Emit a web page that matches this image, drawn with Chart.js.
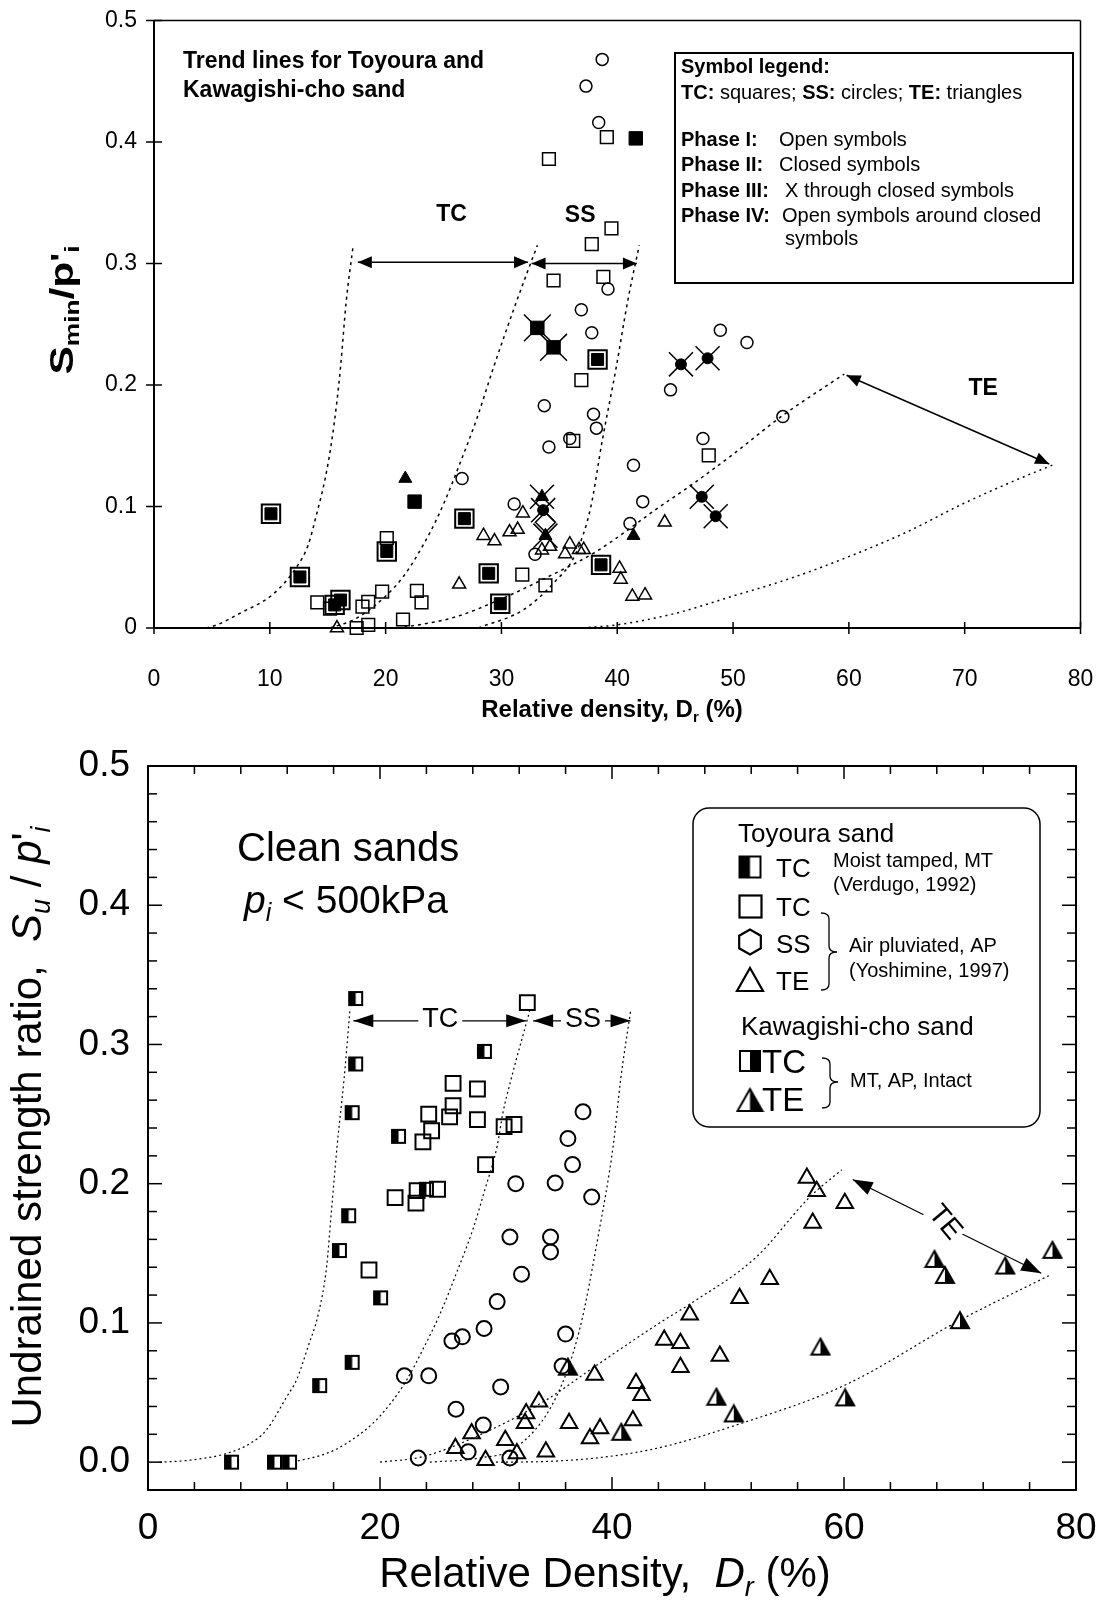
<!DOCTYPE html>
<html><head><meta charset="utf-8">
<script src="https://cdn.jsdelivr.net/npm/chart.js@4.4.1/dist/chart.umd.min.js"></script>
<style>
html,body{margin:0;padding:0;background:#fff;}
#wrap{position:relative;width:1101px;height:1608px;background:#fff;}
canvas{display:block;position:absolute;left:0;}
#c1{top:0;} #c2{top:730px;}
</style></head><body>
<div id="wrap"><canvas id="c1" width="1101" height="730"></canvas><canvas id="c2" width="1101" height="878"></canvas></div>
<script>
// ================= TOP CHART DATA =================
const topXTicks = [0,10,20,30,40,50,60,70,80];
const topXTickLabels = ['0','10','20','30','40','50','60','70','80'];
const topYTicks = [0,0.1,0.2,0.3,0.4,0.5];
const topYTickLabels = ['0','0.1','0.2','0.3','0.4','0.5'];

// TC squares
const tcPhase1 = [[39.1,0.404],[34.1,0.386],[39.5,0.329],[37.8,0.316],[34.5,0.286],[38.8,0.289],[36.9,0.204],[36.2,0.154],[47.9,0.142],[31.8,0.044],[33.8,0.035],[20.1,0.074],[14.1,0.021],[15.2,0.016],[18.0,0.0175],[18.5,0.0216],[19.7,0.030],[22.7,0.0306],[23.1,0.021],[21.5,0.007],[17.5,0.0],[18.5,0.0025]];
const tcPhase2 = [[41.6,0.403],[22.5,0.104]];
const tcPhase3 = [[33.1,0.247],[34.5,0.231]];
const tcPhase4 = [[38.3,0.221],[10.1,0.094],[26.8,0.090],[12.6,0.042],[20.1,0.063],[15.6,0.019],[16.1,0.023],[28.9,0.045],[29.9,0.020],[38.6,0.052]];
// SS circles
const ssPhase1 = [[38.7,0.468],[37.3,0.446],[38.4,0.416],[39.2,0.279],[36.9,0.262],[37.8,0.243],[33.7,0.183],[37.95,0.176],[38.2,0.1645],[35.9,0.156],[34.1,0.149],[41.4,0.134],[42.2,0.104],[26.6,0.123],[31.1,0.102],[32.9,0.0607],[48.9,0.245],[51.2,0.235],[44.6,0.196],[54.3,0.174],[47.4,0.156],[41.1,0.086]];
const ssPhase3 = [[45.5,0.217],[47.8,0.222],[47.3,0.108],[48.5,0.092],[33.6,0.097]];
const ssPhase4 = [[33.8,0.087]];
// TE triangles
const tePhase1 = [[31.85,0.0945],[28.45,0.076],[29.4,0.0716],[30.7,0.079],[31.4,0.081],[33.5,0.064],[34.2,0.067],[35.5,0.061],[35.9,0.069],[36.7,0.0645],[37.1,0.0645],[40.2,0.049],[40.3,0.040],[41.3,0.026],[42.4,0.027],[26.35,0.036],[44.1,0.087],[15.8,0.0]];
const tePhase2 = [[21.7,0.123],[41.4,0.076]];
const tePhase3 = [[33.5,0.108],[33.8,0.076]];

// trend lines
const topTrendTcLeft = [[4.5,0],[5.4,0.0025],[7.4,0.012],[10.3,0.028],[12.3,0.05],[13.3,0.068],[14.05,0.094],[14.8,0.124],[15.35,0.154],[15.8,0.187],[16.1,0.214],[16.6,0.269],[17.2,0.315]];
const topTrendTcRight = [[15.2,0],[17.2,0.0066],[18.95,0.0175],[21.5,0.042],[23.8,0.078],[25.0,0.102],[26.4,0.135],[27.9,0.173],[29.3,0.214],[31.2,0.266],[33.1,0.315]];
const topTrendSsRight = [[28,0],[31.9,0.015],[34.5,0.037],[36.4,0.061],[37.7,0.099],[38.7,0.154],[39.9,0.214],[40.9,0.269],[41.9,0.315]];
const topTrendTeUpper = [[21,0],[21.8,0.001],[26,0.009],[30,0.024],[34,0.042],[38.2,0.063],[43.7,0.1],[46.3,0.117],[50,0.143],[54.3,0.175],[59.6,0.209]];
const topTrendTeLower = [[37,0],[39.9,0.0025],[45,0.012],[49.9,0.026],[55,0.041],[59.8,0.058],[65,0.079],[69.8,0.102],[74,0.12],[77.8,0.135]];
const topArrowTC = [[17.6,0.301],[32.3,0.301]];
const topArrowSS = [[32.6,0.300],[41.7,0.300]];
const topArrowTE = [[59.8,0.208],[77.3,0.135]];
const topLabelTC = [25.7,0.34];
const topLabelSS = [36.8,0.339];
const topLabelTE = [71.6,0.197];

// ================= BOTTOM CHART DATA =================
const botXMajorTicks = [0,20,40,60,80];
const botXTickLabels = ['0','20','40','60','80'];
const botXMinorTicks = [0,4,8,12,16,20,24,28,32,36,40,44,48,52,56,60,64,68,72,76,80];
const botYMajorTicks = [0,0.1,0.2,0.3,0.4,0.5];
const botYTickLabels = ['0.0','0.1','0.2','0.3','0.4','0.5'];
const botYMinorTicks = [-0.02,0,0.02,0.04,0.06,0.08,0.1,0.12,0.14,0.16,0.18,0.2,0.22,0.24,0.26,0.28,0.3,0.32,0.34,0.36,0.38,0.4,0.42,0.44,0.46,0.48,0.5];

// Toyoura TC, moist tamped (half-filled squares)
const botTcMT = [[17.9,0.333],[17.9,0.286],[17.6,0.251],[17.3,0.177],[16.5,0.152],[17.6,0.0717],[14.8,0.055],[29.0,0.295],[21.6,0.234],[20.05,0.118],[24.0,0.196],[7.2,0.0],[10.9,0.0],[12.2,0.0]];
// Toyoura TC, air pluviated (open squares)
const botTcAP = [[32.7,0.330],[26.3,0.272],[28.4,0.268],[26.3,0.256],[24.2,0.250],[26.0,0.248],[28.4,0.246],[30.7,0.241],[31.55,0.2425],[24.45,0.238],[23.7,0.230],[29.1,0.2137],[21.3,0.190],[23.2,0.195],[24.96,0.196],[23.1,0.186],[19.05,0.138]];
// Toyoura SS (circles)
const botSS = [[37.5,0.2516],[36.2,0.2324],[36.6,0.2137],[31.7,0.200],[35.1,0.2005],[38.25,0.1904],[31.2,0.1617],[34.7,0.1617],[34.7,0.151],[32.2,0.135],[30.1,0.1153],[28.97,0.096],[26.2,0.087],[27.1,0.090],[36.0,0.092],[35.7,0.069],[22.1,0.062],[24.2,0.062],[30.4,0.054],[26.55,0.038],[28.9,0.0266],[27.6,0.0074],[23.3,0.003],[31.2,0.003]];
// Toyoura TE (open triangles)
const botTE = [[56.8,0.204],[57.65,0.1945],[60.07,0.186],[57.3,0.1717],[53.6,0.1314],[51.0,0.1178],[46.7,0.1058],[44.5,0.0878],[45.9,0.0854],[49.3,0.0763],[45.9,0.0681],[38.5,0.0626],[42.07,0.0566],[42.55,0.048],[33.7,0.0434],[32.6,0.035],[32.5,0.028],[36.3,0.028],[38.97,0.0242],[38.1,0.017],[41.8,0.030],[27.9,0.0206],[26.5,0.0099],[30.8,0.0158],[31.8,0.0063],[29.1,0.0014],[34.3,0.0074]];
// Kawagishi-cho TE (half-filled triangles)
const botKTE = [[36.2,0.0686],[40.8,0.0218],[67.8,0.146],[68.7,0.1345],[73.9,0.1412],[77.97,0.1525],[70.0,0.102],[57.97,0.083],[49.0,0.047],[50.5,0.035],[60.1,0.0465]];

const botTrendTcLeft = [[1,0],[3.6,0.0014],[6.8,0.0063],[8.8,0.0134],[10.2,0.023],[11.96,0.047],[12.8,0.059],[13.8,0.083],[14.7,0.107],[15.4,0.1405],[15.8,0.179],[16.3,0.227],[16.9,0.275],[17.4,0.324]];
const botTrendTcRight = [[12.5,0],[15.4,0.0063],[17.1,0.0134],[19.4,0.028],[20.9,0.042],[22.3,0.059],[23.7,0.081],[25.2,0.107],[26.6,0.136],[28.0,0.167],[29.05,0.196],[30.1,0.227],[30.6,0.251],[31.3,0.275],[32.9,0.324]];
const botTrendSsRight = [[24.3,0],[28.6,0.003],[31.8,0.011],[35.2,0.047],[37.2,0.095],[38.8,0.162],[40.1,0.227],[40.75,0.275],[41.6,0.324]];
const botTrendTeUpper = [[20,0],[23.7,0.004],[29.5,0.023],[34.4,0.045],[38.4,0.068],[44.1,0.1],[46.8,0.114],[52.4,0.147],[57.0,0.19],[59.8,0.21]];
const botTrendTeLower = [[30,0],[34.4,0.0005],[43.1,0.0086],[51.2,0.028],[60.1,0.0554],[70.0,0.102],[77.8,0.1345]];
const botArrowTC = [[17.7,0.317],[32.6,0.317]];
const botArrowSS = [[33.2,0.317],[41.6,0.317]];
const botArrowTE = [[60.75,0.203],[77.0,0.1357]];
const botLabelTC = [25.2,0.318];
const botLabelSS = [37.5,0.318];
const botLabelTE = [68.7,0.172];

// ================= HELPERS =================
const F = "'Liberation Sans', Arial, Helvetica, sans-serif";
const NONE = 'rgba(0,0,0,0)';
const P = a => a.map(p => ({x:p[0], y:p[1]}));
function marks(arr, style, r, fill, bw) {
  return {data:P(arr), pointStyle:style, pointRadius:r, pointHoverRadius:r, pointBackgroundColor:fill,
    pointBorderColor:'#000', pointBorderWidth:bw, showLine:false, order:1, clip:false};
}
function trend(arr, dash, bw) {
  return {data:P(arr), showLine:true, borderColor:'#000', borderWidth:bw, borderDash:dash, pointRadius:0,
    pointHoverRadius:0, fill:false, cubicInterpolationMode:'monotone', order:10, clip:false};
}
function makeHalfSquare(side, filled) {
  const s = Math.round(side) + 2, c = document.createElement('canvas'); c.width = s; c.height = s;
  const g = c.getContext('2d');
  g.fillStyle = '#fff'; g.fillRect(1,1,s-2,s-2);
  g.fillStyle = '#000';
  if (filled === 'left') g.fillRect(1,1,(s-2)/2,s-2); else g.fillRect(1+(s-2)/2,1,(s-2)/2,s-2);
  g.lineWidth = 2; g.strokeStyle = '#000'; g.strokeRect(2,2,s-4,s-4);
  return c;
}
function triPath(g, cx, top, w, h) {
  g.beginPath(); g.moveTo(cx, top); g.lineTo(cx + w/2, top + h); g.lineTo(cx - w/2, top + h); g.closePath();
}
function makeHalfTriangle(w, filled) {
  const h = Math.round(w*0.88), c = document.createElement('canvas'); c.width = w + 4; c.height = h + 4;
  const g = c.getContext('2d'); const cx = c.width/2;
  triPath(g, cx, 2, w, h); g.fillStyle = '#fff'; g.fill();
  g.save(); triPath(g, cx, 2, w, h); g.clip();
  g.fillStyle = '#000';
  if (filled === 'left') g.fillRect(0,0,cx,c.height); else g.fillRect(cx,0,cx,c.height);
  g.restore();
  triPath(g, cx, 2, w, h); g.lineWidth = 2; g.lineJoin='miter'; g.strokeStyle = '#000'; g.stroke();
  return c;
}
function rich(ctx, x, y, parts, opts) {
  const o = Object.assign({align:'left', rot:0, sx:1}, opts || {});
  ctx.save(); ctx.translate(x, y); if (o.rot) ctx.rotate(o.rot); if (o.sx !== 1) ctx.scale(o.sx, 1);
  ctx.textBaseline = 'alphabetic'; ctx.textAlign = 'left'; ctx.fillStyle = '#000';
  let w = 0; for (const p of parts) { ctx.font = p.f; p._w = ctx.measureText(p.t).width; w += p._w; }
  let cx = o.align === 'center' ? -w/2 : (o.align === 'right' ? -w : 0);
  for (const p of parts) { ctx.font = p.f; ctx.fillText(p.t, cx, p.dy || 0); cx += p._w; }
  ctx.restore();
}
function seg(ctx, x1, y1, x2, y2) { ctx.beginPath(); ctx.moveTo(x1,y1); ctx.lineTo(x2,y2); ctx.stroke(); }
function arrow(ctx, x1, y1, x2, y2, len, wid) {
  const a = Math.atan2(y2-y1, x2-x1);
  seg(ctx, x1, y1, x2, y2);
  const head = (x, y, an) => {
    ctx.beginPath(); ctx.moveTo(x, y);
    ctx.lineTo(x - len*Math.cos(an) + wid*Math.sin(an), y - len*Math.sin(an) - wid*Math.cos(an));
    ctx.lineTo(x - len*Math.cos(an) - wid*Math.sin(an), y - len*Math.sin(an) + wid*Math.cos(an));
    ctx.closePath(); ctx.fill();
  };
  head(x2, y2, a); head(x1, y1, a + Math.PI);
}
function brace(ctx, x, y1, y2, tipY, w) {
  ctx.beginPath();
  ctx.moveTo(x, y1);
  ctx.quadraticCurveTo(x + w*0.5, y1, x + w*0.5, y1 + 6);
  ctx.lineTo(x + w*0.5, tipY - 6);
  ctx.quadraticCurveTo(x + w*0.5, tipY, x + w, tipY);
  ctx.quadraticCurveTo(x + w*0.5, tipY, x + w*0.5, tipY + 6);
  ctx.lineTo(x + w*0.5, y2 - 6);
  ctx.quadraticCurveTo(x + w*0.5, y2, x, y2);
  ctx.stroke();
}

// ================= TOP CHART =================
const topDecor = {
  id: 'topDecor',
  afterDraw(chart) {
    const {ctx, chartArea: a, scales: {x, y}} = chart;
    ctx.save(); ctx.strokeStyle = '#000'; ctx.fillStyle = '#000';
    ctx.lineWidth = 1.5;
    seg(ctx, a.left, a.top, a.right, a.top); seg(ctx, a.right, a.top, a.right, a.bottom);
    ctx.lineWidth = 2;
    seg(ctx, a.left, a.top, a.left, a.bottom); seg(ctx, a.left, a.bottom, a.right, a.bottom);
    ctx.lineWidth = 1.5;
    topXTicks.forEach(v => { const px = x.getPixelForValue(v); seg(ctx, px, a.bottom - 6, px, a.bottom + 6); });
    topYTicks.forEach(v => { const py = y.getPixelForValue(v); seg(ctx, a.left - 8, py, a.left + 8, py); });
    // arrows
    ctx.lineWidth = 1.5;
    [topArrowTC, topArrowSS, topArrowTE].forEach(ar => {
      arrow(ctx, x.getPixelForValue(ar[0][0]), y.getPixelForValue(ar[0][1]), x.getPixelForValue(ar[1][0]), y.getPixelForValue(ar[1][1]), 14, 6);
    });
    // labels
    ctx.font = 'bold 23px ' + F; ctx.textAlign = 'center'; ctx.textBaseline = 'middle';
    [[topLabelTC,'TC'],[topLabelSS,'SS'],[topLabelTE,'TE']].forEach(([p,t]) => ctx.fillText(t, x.getPixelForValue(p[0]), y.getPixelForValue(p[1])));
    ctx.textAlign = 'left'; ctx.textBaseline = 'alphabetic';
    ctx.fillText('Trend lines for Toyoura and', 183, 68);
    ctx.fillText('Kawagishi-cho sand', 183, 97);
    // legend box
    ctx.lineWidth = 2; ctx.strokeRect(675, 53, 398, 230);
    const B = 'bold 20px ' + F, R = '20px ' + F;
    rich(ctx, 681, 73, [{t:'Symbol legend:', f:B}]);
    rich(ctx, 681, 99, [{t:'TC:', f:B},{t:' squares; ', f:R},{t:'SS:', f:B},{t:' circles; ', f:R},{t:'TE:', f:B},{t:' triangles', f:R}]);
    rich(ctx, 681, 146, [{t:'Phase I:', f:B}]); rich(ctx, 779, 146, [{t:'Open symbols', f:R}]);
    rich(ctx, 681, 171, [{t:'Phase II:', f:B}]); rich(ctx, 779, 171, [{t:'Closed symbols', f:R}]);
    rich(ctx, 681, 197, [{t:'Phase III:', f:B}]); rich(ctx, 785, 197, [{t:'X through closed symbols', f:R}]);
    rich(ctx, 681, 222, [{t:'Phase IV:', f:B}]); rich(ctx, 782, 222, [{t:'Open symbols around closed', f:R}]);
    rich(ctx, 785, 245, [{t:'symbols', f:R}]);
    // axis titles
    rich(ctx, 612, 717, [{t:'Relative density, D', f:'bold 24px ' + F},{t:'r', f:'bold 15px ' + F, dy:5},{t:' (%)', f:'bold 24px ' + F}], {align:'center'});
    rich(ctx, 73, 310, [{t:'S', f:'bold 34px ' + F},{t:'min', f:'bold 21px ' + F, dy:6},{t:'/p', f:'bold 34px ' + F},{t:"'", f:'bold 30px ' + F, dy:-2},{t:'i', f:'bold 21px ' + F, dy:6}], {align:'center', rot:-Math.PI/2, sx:1.25});
    ctx.restore();
  }
};

new Chart(document.getElementById('c1'), {
  type: 'scatter',
  data: { datasets: [
    trend(topTrendTcLeft, [3,4], 1.5), trend(topTrendTcRight, [3,4], 1.5), trend(topTrendSsRight, [3,4], 1.5),
    trend(topTrendTeUpper, [3,4], 1.5), trend(topTrendTeLower, [2,4], 1.5),
    marks(tcPhase1, 'rect', 9, NONE, 1.5),
    marks(tcPhase2, 'rect', 9.5, '#000', 1),
    marks(tcPhase3, 'rect', 9.5, '#000', 1), marks(tcPhase3, 'crossRot', 19, NONE, 1.5),
    marks(tcPhase4, 'rect', 13, NONE, 2), marks(tcPhase4, 'rect', 8.5, '#000', 1),
    marks(ssPhase1, 'circle', 6, NONE, 1.5),
    marks(ssPhase3, 'circle', 5.5, '#000', 1), marks(ssPhase3, 'crossRot', 17, NONE, 1.5),
    marks(ssPhase4, 'rectRot', 10, NONE, 1.5),
    marks(tePhase1, 'triangle', 7.5, NONE, 1.5),
    marks(tePhase2, 'triangle', 7.5, '#000', 1),
    marks(tePhase3, 'triangle', 7.5, '#000', 1), marks(tePhase3, 'crossRot', 17, NONE, 1.5)
  ]},
  options: {
    responsive: false, animation: false, devicePixelRatio: 1,
    layout: { padding: { left: 0, right: 19, top: 18, bottom: 0 } },
    plugins: { legend: {display: false}, tooltip: {enabled: false} },
    scales: {
      x: { type: 'linear', min: 0, max: 80, position: 'bottom',
        afterBuildTicks: s => { s.ticks = topXTicks.map(v => ({value: v})); },
        afterFit: s => { s.height = 102; s.paddingLeft = 0; s.paddingRight = 0; },
        grid: {display: false, drawTicks: false}, border: {display: false},
        ticks: { padding: 38, color: '#000', font: {family: F, size: 23}, maxRotation: 0, autoSkip: false,
          callback: v => { const i = topXTicks.indexOf(v); return i >= 0 ? topXTickLabels[i] : ''; } } },
      y: { type: 'linear', min: 0, max: 0.5, position: 'left',
        afterBuildTicks: s => { s.ticks = topYTicks.map(v => ({value: v})); },
        afterFit: s => { s.width = 154; s.paddingTop = 0; s.paddingBottom = 0; },
        grid: {display: false, drawTicks: false}, border: {display: false},
        ticks: { padding: 17, color: '#000', font: {family: F, size: 23}, autoSkip: false,
          callback: v => { const i = topYTicks.findIndex(t => Math.abs(t - v) < 1e-9); return i >= 0 ? topYTickLabels[i] : ''; } } }
    }
  },
  plugins: [topDecor]
});

// ================= BOTTOM CHART =================
const halfSqMT = makeHalfSquare(15, 'left');
const halfSqK = makeHalfSquare(22, 'right');
const halfTriK = makeHalfTriangle(18, 'right');

const botDecor = {
  id: 'botDecor',
  afterDraw(chart) {
    const {ctx, chartArea: a, scales: {x, y}} = chart;
    ctx.save(); ctx.strokeStyle = '#000'; ctx.fillStyle = '#000';
    ctx.lineWidth = 2; ctx.strokeRect(a.left, a.top, a.right - a.left, a.bottom - a.top);
    ctx.lineWidth = 1.5;
    botXMinorTicks.forEach(v => {
      const px = x.getPixelForValue(v), L = botXMajorTicks.includes(v) ? 13 : 8;
      seg(ctx, px, a.bottom, px, a.bottom - L); seg(ctx, px, a.top, px, a.top + L);
    });
    botYMinorTicks.forEach(v => {
      const py = y.getPixelForValue(v), L = botYMajorTicks.some(m => Math.abs(m - v) < 1e-9) ? 14 : 9;
      seg(ctx, a.left, py, a.left + L, py); seg(ctx, a.right, py, a.right - L, py);
    });
    // arrows
    ctx.lineWidth = 1.3;
    [botArrowTC, botArrowSS].forEach(ar => {
      arrow(ctx, x.getPixelForValue(ar[0][0]), y.getPixelForValue(ar[0][1]), x.getPixelForValue(ar[1][0]), y.getPixelForValue(ar[1][1]), 20, 6.5);
    });
    arrow(ctx, x.getPixelForValue(botArrowTE[0][0]), y.getPixelForValue(botArrowTE[0][1]), x.getPixelForValue(botArrowTE[1][0]), y.getPixelForValue(botArrowTE[1][1]), 20, 7);
    // arrow labels with white gap
    ctx.font = '27px ' + F; ctx.textAlign = 'center'; ctx.textBaseline = 'middle';
    [[botLabelTC,'TC'],[botLabelSS,'SS']].forEach(([p,t]) => {
      const px = x.getPixelForValue(p[0]), py = y.getPixelForValue(p[1]);
      const w = ctx.measureText(t).width;
      ctx.fillStyle = '#fff'; ctx.fillRect(px - w/2 - 4, py - 12, w + 8, 24);
      ctx.fillStyle = '#000'; ctx.fillText(t, px, py);
    });
    ctx.save();
    ctx.translate(x.getPixelForValue(botLabelTE[0]), y.getPixelForValue(botLabelTE[1]));
    ctx.rotate(50 * Math.PI / 180);
    ctx.font = '28px ' + F;
    ctx.fillStyle = '#fff'; ctx.fillRect(-20, -13, 40, 26);
    ctx.fillStyle = '#000'; ctx.fillText('TE', 0, 0);
    ctx.restore();
    ctx.textAlign = 'left'; ctx.textBaseline = 'alphabetic';
    // title text
    rich(ctx, 237, 131, [{t:'Clean sands', f:'40px ' + F}]);
    rich(ctx, 244, 183, [{t:'p', f:'italic 39px ' + F},{t:'i', f:'italic 25px ' + F, dy:8},{t:' < 500kPa', f:'39px ' + F}]);
    // legend
    ctx.lineWidth = 1.5;
    ctx.beginPath(); ctx.roundRect(693, 78, 347, 319, 16); ctx.stroke();
    const L26 = '26px ' + F, L20 = '20px ' + F, L33 = '33px ' + F;
    rich(ctx, 738, 112, [{t:'Toyoura sand', f:L26}]);
    ctx.drawImage(makeHalfSquare(23, 'left'), 750 - 12.5, 137 - 12.5);
    rich(ctx, 776, 147, [{t:'TC', f:L26}]);
    ctx.lineWidth = 2.2; ctx.strokeRect(739.5, 165.5, 22, 22);
    rich(ctx, 776, 186, [{t:'TC', f:L26}]);
    ctx.beginPath();
    for (let k = 0; k < 6; k++) { const an = Math.PI/6 + k*Math.PI/3; const px = 750 + 12.5*Math.cos(an), py = 212 + 12.5*Math.sin(an); if (k) ctx.lineTo(px, py); else ctx.moveTo(px, py); }
    ctx.closePath(); ctx.stroke();
    rich(ctx, 776, 223, [{t:'SS', f:L26}]);
    triPath(ctx, 750, 238, 26, 23); ctx.stroke();
    rich(ctx, 776, 260, [{t:'TE', f:L26}]);
    rich(ctx, 833, 137, [{t:'Moist tamped, MT', f:L20}]);
    rich(ctx, 833, 161, [{t:'(Verdugo, 1992)', f:L20}]);
    ctx.lineWidth = 1.3;
    brace(ctx, 821, 183, 260, 222, 16);
    rich(ctx, 849, 222, [{t:'Air pluviated, AP', f:L20}]);
    rich(ctx, 849, 247, [{t:'(Yoshimine, 1997)', f:L20}]);
    rich(ctx, 741, 305, [{t:'Kawagishi-cho sand', f:L26}]);
    ctx.drawImage(halfSqK, 750 - 12, 331 - 12);
    rich(ctx, 762, 343, [{t:'TC', f:L33}]);
    ctx.drawImage(makeHalfTriangle(25, 'right'), 750 - 14.5, 370 - 13);
    rich(ctx, 762, 381, [{t:'TE', f:L33}]);
    brace(ctx, 822, 328, 378, 352, 16);
    rich(ctx, 850, 357, [{t:'MT, AP, Intact', f:L20}]);
    // axis titles
    rich(ctx, 605, 857, [{t:'Relative Density,  ', f:'42px ' + F},{t:'D', f:'italic 42px ' + F},{t:'r', f:'italic 27px ' + F, dy:9},{t:' (%)', f:'42px ' + F}], {align:'center'});
    rich(ctx, 41, 397, [{t:'Undrained strength ratio,  ', f:'42px ' + F},{t:'S', f:'italic 42px ' + F},{t:'u', f:'italic 27px ' + F, dy:9},{t:' / ', f:'42px ' + F},{t:'p', f:'italic 42px ' + F},{t:"'", f:'42px ' + F},{t:'i', f:'italic 27px ' + F, dy:9}], {align:'center', rot:-Math.PI/2});
    ctx.restore();
  }
};

new Chart(document.getElementById('c2'), {
  type: 'scatter',
  data: { datasets: [
    trend(botTrendTcLeft, [2,3], 1.2), trend(botTrendTcRight, [2,3], 1.2), trend(botTrendSsRight, [2,3], 1.2),
    trend(botTrendTeUpper, [2,3], 1.2), trend(botTrendTeLower, [2,3], 1.2),
    marks(botTcAP, 'rect', 10.5, NONE, 2),
    marks(botTcMT, halfSqMT, 8, NONE, 0),
    marks(botSS, 'circle', 7.5, NONE, 2),
    marks(botTE, 'triangle', 9.5, NONE, 2),
    marks(botKTE, halfTriK, 8, NONE, 0)
  ]},
  options: {
    responsive: false, animation: false, devicePixelRatio: 1,
    layout: { padding: { left: 0, right: 25, top: 36, bottom: 0 } },
    plugins: { legend: {display: false}, tooltip: {enabled: false} },
    scales: {
      x: { type: 'linear', min: 0, max: 80, position: 'bottom',
        afterBuildTicks: s => { s.ticks = botXMajorTicks.map(v => ({value: v})); },
        afterFit: s => { s.height = 118; s.paddingLeft = 0; s.paddingRight = 0; },
        grid: {display: false, drawTicks: false}, border: {display: false},
        ticks: { padding: 17, color: '#000', font: {family: F, size: 37}, maxRotation: 0, autoSkip: false,
          callback: v => { const i = botXMajorTicks.indexOf(v); return i >= 0 ? botXTickLabels[i] : ''; } } },
      y: { type: 'linear', min: -0.02, max: 0.5, position: 'left',
        afterBuildTicks: s => { s.ticks = botYMajorTicks.map(v => ({value: v})); },
        afterFit: s => { s.width = 148; s.paddingTop = 0; s.paddingBottom = 0; },
        grid: {display: false, drawTicks: false}, border: {display: false},
        ticks: { padding: 18, color: '#000', font: {family: F, size: 37}, autoSkip: false,
          callback: v => { const i = botYMajorTicks.findIndex(t => Math.abs(t - v) < 1e-9); return i >= 0 ? botYTickLabels[i] : ''; } } }
    }
  },
  plugins: [botDecor]
});
</script>
</body></html>
